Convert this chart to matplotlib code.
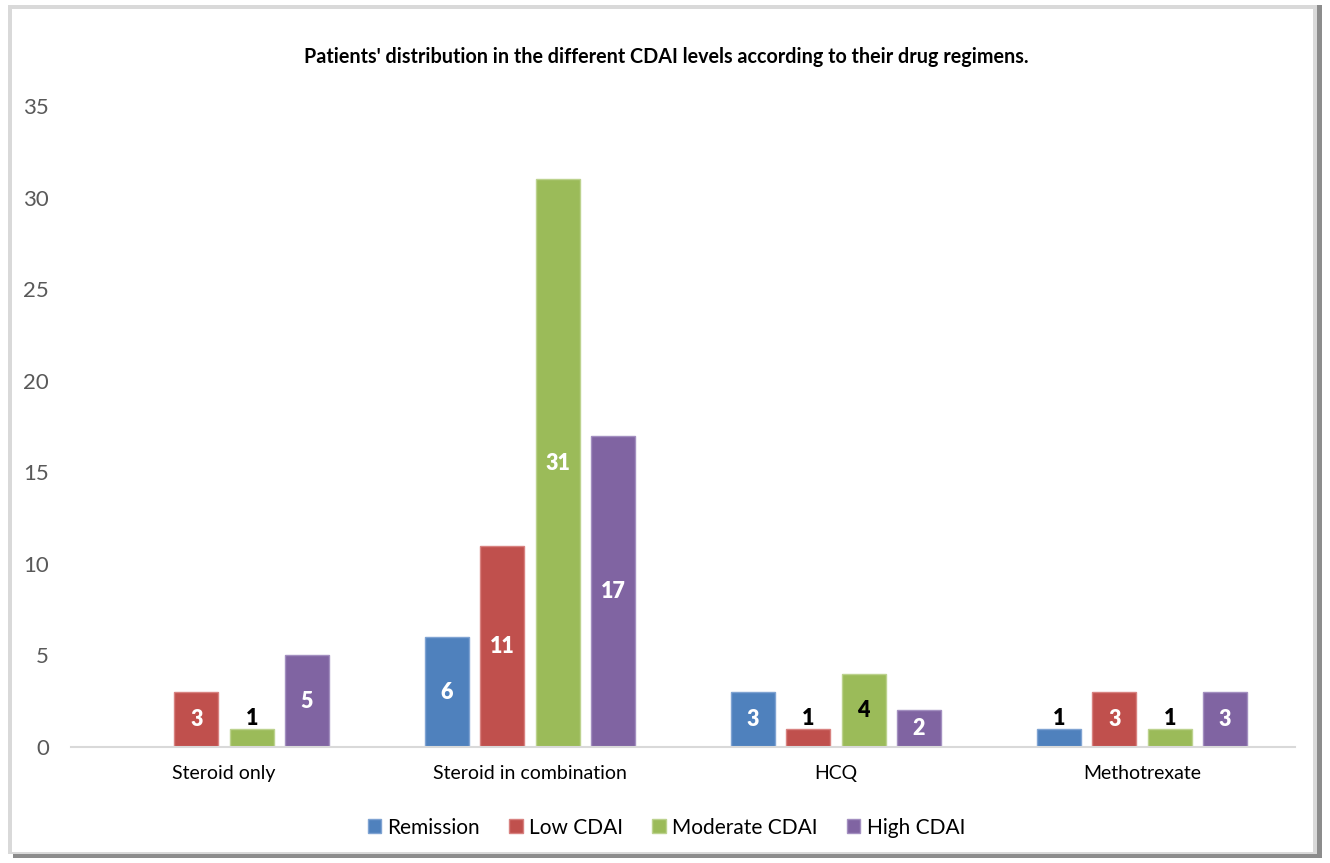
import numpy as np
import matplotlib

matplotlib.use("Agg")
import matplotlib.pyplot as plt
from matplotlib.patches import Rectangle

plt.rcParams["font.family"] = ["Lato", "DejaVu Sans"]

regimens = ["Steroid only", "Steroid in combination", "HCQ", "Methotrexate"]
levels = ["Remission", "Low CDAI", "Moderate CDAI", "High CDAI"]
remission = [0, 6, 3, 1]
low_cdai = [3, 11, 1, 3]
moderate_cdai = [1, 31, 4, 1]
high_cdai = [5, 17, 2, 3]
series = [remission, low_cdai, moderate_cdai, high_cdai]

colors = ["#4F81BD", "#C0504D", "#9BBB59", "#8064A2"]
edges = ["#7FA3D2", "#D88280", "#BCD28E", "#A38FC0"]
# cells whose label is drawn in black in the original (level index, regimen index)
dark_labels = {(2, 2)}

fig = plt.figure(figsize=(13.3, 8.63), dpi=100)

# chart frame with a soft shadow on the right and bottom
fig.patches.append(Rectangle((0.010, 0.006), 0.984, 0.988, transform=fig.transFigure,
                             facecolor="#8C8C8C", edgecolor="none", zorder=-10))
fig.patches.append(Rectangle((0.006, 0.010), 0.984, 0.984, transform=fig.transFigure,
                             facecolor="#D9D9D9", edgecolor="none", zorder=-10))
fig.patches.append(Rectangle((0.009, 0.013), 0.978, 0.977, transform=fig.transFigure,
                             facecolor="white", edgecolor="none", zorder=-10))

ax = fig.add_axes([0.0534, 0.1344, 0.9203, 0.7428])
ax.patch.set_alpha(0)

x = np.arange(len(regimens))
width = 0.144
stride = 0.181
for i, (name, vals) in enumerate(zip(levels, series)):
    pos = x + (i - 1.5) * stride
    ax.bar(pos, vals, width, color=colors[i], edgecolor=edges[i], linewidth=1.0,
           label=name, zorder=2)
    for j, v in enumerate(vals):
        if v == 0:
            continue
        if v == 1:
            ax.text(pos[j], v, str(v), ha="center", va="bottom", fontsize=15.5,
                    fontweight="heavy", color="black", zorder=3)
        else:
            c = "black" if (i, j) in dark_labels else "white"
            ax.text(pos[j], v / 2, str(v), ha="center", va="center", fontsize=15.5,
                    fontweight="heavy", color=c, zorder=3)

ax.set_xlim(-0.5, len(regimens) - 0.5)
ax.set_ylim(0, 35)
ax.set_yticks(np.arange(0, 36, 5))
ax.set_xticks(x)
ax.set_xticklabels(regimens, fontsize=14, color="black")
ax.tick_params(axis="y", length=0, labelsize=16, labelcolor="#595959", pad=16)
ax.tick_params(axis="x", length=0, pad=13)
for s in ["top", "right", "left"]:
    ax.spines[s].set_visible(False)
ax.spines["bottom"].set_color("#D9D9D9")
ax.spines["bottom"].set_linewidth(1.5)

fig.text(0.501, 0.934, "Patients' distribution in the different CDAI levels according to their drug regimens.",
         ha="center", va="center", fontsize=14.2, fontweight="bold")

fig.legend(loc="center", bbox_to_anchor=(0.501, 0.041), ncol=4, frameon=False,
           fontsize=15, handlelength=0.65, handleheight=0.65, handletextpad=0.3,
           columnspacing=1.4)

fig.savefig("out.png", dpi=100)
